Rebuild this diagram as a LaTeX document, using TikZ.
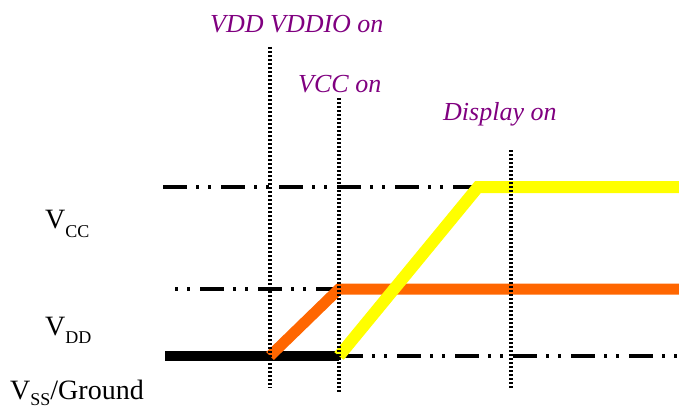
\documentclass[tikz,border=0pt]{standalone}
\usepackage{fontspec}
\setmainfont{Liberation Serif}
\definecolor{lblpurple}{RGB}{128,0,128}
\definecolor{vddorange}{RGB}{255,102,0}
\definecolor{vccyellow}{RGB}{255,255,0}
\begin{document}
\begin{tikzpicture}[x=1pt,y=-1pt,
  level/.style={line width=4.5pt, dash pattern=on 24pt off 9pt on 3pt off 9pt on 3pt off 10pt},
  vmark/.style={line width=3.5pt, dash pattern=on 2.2pt off 1.8pt},
  event/.style={anchor=base west, inner sep=0pt, text=lblpurple, font=\fontsize{26}{28}\selectfont\itshape},
  rail/.style={anchor=base west, inner sep=0pt, font=\fontsize{28}{30}\selectfont},
  sig/.style={line width=#1pt, line join=miter}
]
\useasboundingbox (0,0) rectangle (679,412);
% coordinates
\coordinate (v1t) at (270,47);  \coordinate (v1b) at (270,388);
\coordinate (v2t) at (339,98);  \coordinate (v2b) at (339,392);
\coordinate (v3t) at (511,150); \coordinate (v3b) at (511,388);
\coordinate (ccL) at (163,187); \coordinate (ccK) at (478,187); \coordinate (ccR) at (679,187);
\coordinate (ddL) at (175,289); \coordinate (ddK) at (339,289); \coordinate (ddR) at (679,289);
\coordinate (gL) at (165,356);  \coordinate (g1) at (270,356); \coordinate (g2) at (339,356); \coordinate (gR) at (679,356);
% reference levels
\draw[level] (ccL) -- (ccK);
\draw[level, dash phase=33pt] (ddL) -- (ddK);
\draw[level] (g2) -- (gR);
% ground
\draw[line width=10pt] (gL) -- (g2);
% signals
\draw[sig=11, vddorange] (g1) -- (ddK) -- (ddR);
\draw[sig=12, vccyellow] (g2) -- (ccK) -- (ccR);
% event markers
\draw[vmark] (v1t) -- (v1b);
\draw[vmark] (v2t) -- (v2b);
\draw[vmark] (v3t) -- (v3b);
% labels
\node[event] (e1) at (210,33) {VDD VDDIO on};
\node[event] (e2) at (298,92) {VCC on};
\node[event] (e3) at (443,120) {Display on};
\node[rail] (rcc) at (45,228) {V\raisebox{-0.35em}{\fontsize{18}{20}\selectfont CC}};
\node[rail] (rdd) at (45,335) {V\raisebox{-0.3em}{\fontsize{18}{20}\selectfont DD}};
\node[rail] (rss) at (10,399) {V\raisebox{-0.22em}{\fontsize{18}{20}\selectfont SS}/Ground};
\end{tikzpicture}
\end{document}
